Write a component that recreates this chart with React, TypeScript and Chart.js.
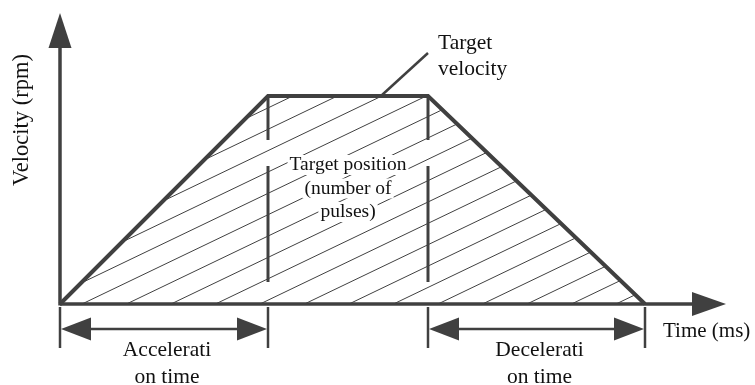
import React, { useEffect, useRef } from "react";
import { Chart, registerables } from "chart.js";

Chart.register(...registerables);

// Profile: time (ms) vs velocity (rpm), arbitrary units
const timeMs = [0, 208, 368, 585];
const velocityRpm = [0, 208, 208, 0];
const xAxisTitle = "Time (ms)";
const yAxisTitle = "Velocity (rpm)";
const accelLabel = ["Accelerati", "on time"];
const decelLabel = ["Decelerati", "on time"];
const targetVelocityLabel = ["Target", "velocity"];
const targetPositionLabel = ["Target position", "(number of", "pulses)"];

const INK = "#404040";
const TEXT = "#111111";
const SERIF = '"Liberation Serif", "Times New Roman", serif';

const diagramPlugin = {
  id: "diagram",
  beforeDatasetsDraw(chart: any) {
    const { ctx, scales } = chart;
    const xs = (v: number) => scales.x.getPixelForValue(v);
    const ys = (v: number) => scales.y.getPixelForValue(v);
    const pts = timeMs.map((t, i) => ({ x: xs(t), y: ys(velocityRpm[i]) }));
    // hatching
    ctx.save();
    ctx.beginPath();
    pts.forEach((p, i) => (i === 0 ? ctx.moveTo(p.x, p.y) : ctx.lineTo(p.x, p.y)));
    ctx.closePath();
    ctx.clip();
    ctx.strokeStyle = INK;
    ctx.lineWidth = 1;
    const y0 = pts[0].y;
    for (let k = -30; k < 20; k++) {
      const x0 = pts[0].x + 22 + 44.5 * k;
      ctx.beginPath();
      ctx.moveTo(x0 - 1000, y0 + 480);
      ctx.lineTo(x0 + 1000, y0 - 480);
      ctx.stroke();
    }
    ctx.restore();

    // dashed verticals at end of accel / start of decel
    ctx.save();
    ctx.strokeStyle = INK;
    ctx.lineWidth = 3;
    [timeMs[1], timeMs[2]].forEach((t) => {
      const x = xs(t);
      const top = ys(velocityRpm[1]);
      [[0, 44], [70, 186]].forEach(([a, b]) => {
        ctx.beginPath();
        ctx.moveTo(x, top + a);
        ctx.lineTo(x, top + b);
        ctx.stroke();
      });
    });
    ctx.restore();

    // center text with white background
    ctx.save();
    ctx.font = `19.5px ${SERIF}`;
    ctx.textAlign = "center";
    ctx.textBaseline = "middle";
    const cx = (xs(timeMs[1]) + xs(timeMs[2])) / 2;
    const cy = ys(velocityRpm[1]) + 69;
    targetPositionLabel.forEach((s, i) => {
      const w = ctx.measureText(s).width;
      ctx.fillStyle = "#ffffff";
      ctx.fillRect(cx - w / 2 - 2, cy + i * 23.5 - 10, w + 4, 20);
    });
    ctx.fillStyle = TEXT;
    targetPositionLabel.forEach((s, i) => ctx.fillText(s, cx, cy + i * 23.5));
    ctx.restore();
  },
  afterDatasetsDraw(chart: any) {
    const { ctx, scales } = chart;
    const xs = (v: number) => scales.x.getPixelForValue(v);
    const ys = (v: number) => scales.y.getPixelForValue(v);
    const ox = xs(0);
    const oy = ys(0);
    ctx.save();
    ctx.strokeStyle = INK;
    ctx.fillStyle = INK;
    ctx.lineCap = "butt";

    // Y axis
    const yTip = ys(291);
    ctx.lineWidth = 3.5;
    ctx.beginPath();
    ctx.moveTo(ox, oy + 1.5);
    ctx.lineTo(ox, yTip + 35);
    ctx.stroke();
    ctx.beginPath();
    ctx.moveTo(ox - 11.5, yTip + 35);
    ctx.lineTo(ox + 11.5, yTip + 35);
    ctx.lineTo(ox, yTip);
    ctx.closePath();
    ctx.fill();

    // X axis
    const xTip = xs(666);
    ctx.beginPath();
    ctx.moveTo(ox, oy);
    ctx.lineTo(xTip - 34, oy);
    ctx.stroke();
    ctx.beginPath();
    ctx.moveTo(xTip - 34, oy - 12);
    ctx.lineTo(xTip - 34, oy + 12);
    ctx.lineTo(xTip, oy);
    ctx.closePath();
    ctx.fill();

    // dimension ticks below axis
    ctx.lineWidth = 2.5;
    timeMs.forEach((t) => {
      const x = xs(t);
      ctx.beginPath();
      ctx.moveTo(x, oy + 3);
      ctx.lineTo(x, oy + 44);
      ctx.stroke();
    });
    const dimY = oy + 25;
    const dim = (a: number, b: number) => {
      const xa = xs(a);
      const xb = xs(b);
      ctx.lineWidth = 2.5;
      ctx.beginPath();
      ctx.moveTo(xa + 28, dimY);
      ctx.lineTo(xb - 28, dimY);
      ctx.stroke();
      ctx.beginPath();
      ctx.moveTo(xa + 1, dimY);
      ctx.lineTo(xa + 31, dimY - 11.5);
      ctx.lineTo(xa + 31, dimY + 11.5);
      ctx.closePath();
      ctx.fill();
      ctx.beginPath();
      ctx.moveTo(xb - 1, dimY);
      ctx.lineTo(xb - 31, dimY - 11.5);
      ctx.lineTo(xb - 31, dimY + 11.5);
      ctx.closePath();
      ctx.fill();
    };
    dim(timeMs[0], timeMs[1]);
    dim(timeMs[2], timeMs[3]);

    // leader line to target velocity
    const topY = ys(velocityRpm[1]);
    ctx.lineWidth = 2.5;
    ctx.beginPath();
    ctx.moveTo(xs(322), topY - 1);
    ctx.lineTo(xs(368), topY - 43);
    ctx.stroke();

    // texts
    ctx.fillStyle = TEXT;
    ctx.font = `21.5px ${SERIF}`;
    ctx.textBaseline = "middle";
    ctx.textAlign = "left";
    targetVelocityLabel.forEach((s, i) => ctx.fillText(s, xs(378), topY - 53 + i * 26));
    ctx.font = `21px ${SERIF}`;
    ctx.fillText(xAxisTitle, xs(603), oy + 27);
    ctx.textAlign = "center";
    ctx.font = `21.5px ${SERIF}`;
    const ax = (xs(timeMs[0]) + xs(timeMs[1])) / 2 + 3;
    accelLabel.forEach((s, i) => ctx.fillText(s, ax, oy + 46 + i * 27));
    const dx = (xs(timeMs[2]) + xs(timeMs[3])) / 2 + 3;
    decelLabel.forEach((s, i) => ctx.fillText(s, dx, oy + 46 + i * 27));

    ctx.save();
    ctx.font = `22.5px ${SERIF}`;
    ctx.translate(22, ys(184));
    ctx.rotate(-Math.PI / 2);
    ctx.fillText(yAxisTitle, 0, 0);
    ctx.restore();

    ctx.restore();
  },
};

export default function App() {
  const ref = useRef<HTMLCanvasElement | null>(null);
  useEffect(() => {
    document.body.style.margin = "0";
    const canvas = ref.current;
    if (!canvas) return;
    const chart = new Chart(canvas, {
      type: "line",
      data: {
        datasets: [
          {
            data: timeMs.map((t, i) => ({ x: t, y: velocityRpm[i] })),
            borderColor: INK,
            borderWidth: 4,
            pointRadius: 0,
            fill: false,
            tension: 0,
            borderJoinStyle: "miter",
          },
        ],
      },
      options: {
        animation: false,
        responsive: false,
        layout: { padding: 0, autoPadding: false },
        plugins: { legend: { display: false }, tooltip: { enabled: false }, title: { display: false } },
        scales: {
          x: { type: "linear", min: -60, max: 695, display: false },
          y: { type: "linear", min: -81, max: 304, display: false },
        },
        events: [],
      },
      plugins: [diagramPlugin],
    } as any);
    return () => chart.destroy();
  }, []);
  return (
    <div style={{ width: 755, height: 385, background: "#fff" }}>
      <canvas ref={ref} width={755} height={385} style={{ display: "block" }} />
    </div>
  );
}
